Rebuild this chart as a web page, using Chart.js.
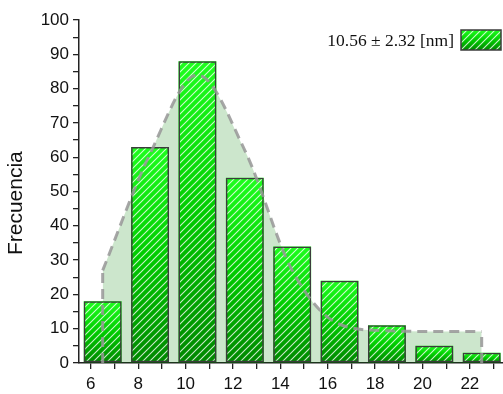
<!DOCTYPE html>
<html>
<head>
<meta charset="utf-8">
<script src="https://cdn.jsdelivr.net/npm/chart.js@4/dist/chart.umd.min.js"></script>
<style>
  html, body { margin: 0; padding: 0; background: #fff; }
  #wrap { width: 503px; height: 394px; }
</style>
</head>
<body>
<div id="wrap"><canvas id="chart"></canvas></div>
<script>
// --- DATA ---
const binCenters = [6.5, 8.5, 10.5, 12.5, 14.5, 16.5, 18.5, 20.5, 22.5];
const counts = [18, 63, 88, 54, 34, 24, 11, 5, 3];
const curveX = [6.5, 8.5, 10.5, 12.5, 14.5, 16.5, 18.5, 20.5, 22.5];
const curveY = [27, 61, 84, 62, 27, 11.3, 9.4, 9.2, 9.2];
const xLabels = [6, 8, 10, 12, 14, 16, 18, 20, 22];
const yLabels = [0, 10, 20, 30, 40, 50, 60, 70, 80, 90, 100];
const legendText = '10.56 \u00b1 2.32 [nm]';
const yTitle = 'Frecuencia';

// --- STYLE HELPERS ---
const canvas = document.getElementById('chart');
const sans = '"Liberation Sans", Arial, sans-serif';
const serif = '"Liberation Serif", "Times New Roman", serif';

// white diagonal hatch
const hatch = (() => {
    const t = document.createElement('canvas'); t.width = 7; t.height = 7;
    const g = t.getContext('2d');
    g.strokeStyle = 'rgba(255,255,255,0.8)'; g.lineWidth = 1.1;
    [-7, 0, 7].forEach(o => { g.beginPath(); g.moveTo(o - 1, 8); g.lineTo(o + 8, -1); g.stroke(); });
    return canvas.getContext('2d').createPattern(t, 'repeat');
})();

function greenGrad(ctx, top, base) {
    const g = ctx.createLinearGradient(0, top, 0, base);
    g.addColorStop(0, '#1eff1e');
    g.addColorStop(0.5, '#00cc00');
    g.addColorStop(1, '#008800');
    return g;
}

// per-bar gradient, top bright -> bottom dark
function barFill(c) {
    const ys = c.chart.scales.y;
    if (!ys || !c.parsed) return '#00c000';
    const top = ys.getPixelForValue(c.parsed.y), base = ys.getPixelForValue(0);
    if (!isFinite(top) || !isFinite(base) || top === base) return '#00c000';
    return greenGrad(c.chart.ctx, top, base);
}

const pts = (xs, ys) => xs.map((x, i) => ({x: x, y: ys[i]}));
const near = (arr, v) => arr.some(a => Math.abs(a - v) < 1e-6);
const curveStyle = {
    borderColor: 'rgba(150,150,150,0.85)', borderWidth: 3, borderDash: [10, 6],
    pointRadius: 0, pointHoverRadius: 0
};
// bar width: ruler spacing is the 1-unit tick step, bins are 2 units apart
const barStyle = { grouped: false, categoryPercentage: 1, barPercentage: 1.6 };

// whole-number tick marks inside the axis range (labels only on xLabels)
function wholeTicks(s) {
    const out = [];
    for (let v = Math.ceil(s.min); v <= Math.floor(s.max); v++) out.push({value: v});
    s.ticks = out;
}

// legend drawn inside the plot, top-right (text + swatch)
const insideLegend = {
    id: 'insideLegend',
    afterDraw(chart) {
        const {ctx, chartArea} = chart;
        const w = 40, h = 20;
        const x = chartArea.right - 2 - w, y = chartArea.top + 10;
        ctx.save();
        ctx.fillStyle = greenGrad(ctx, y, y + h); ctx.fillRect(x, y, w, h);
        ctx.fillStyle = hatch; ctx.fillRect(x, y, w, h);
        ctx.strokeStyle = '#3c3c3c'; ctx.lineWidth = 1.5; ctx.strokeRect(x, y, w, h);
        ctx.font = '17.5px ' + serif; ctx.fillStyle = '#111';
        ctx.textAlign = 'right'; ctx.textBaseline = 'middle';
        ctx.fillText(legendText, x - 7, y + h / 2 + 1);
        ctx.restore();
    }
};

new Chart(canvas, {
    data: {
        datasets: [
            { type: 'line', label: 'curve', data: pts(curveX, curveY), ...curveStyle,
              cubicInterpolationMode: 'monotone', fill: 'origin', backgroundColor: 'rgba(0,128,0,0.2)', order: 0 },
            { type: 'line', label: 'left', data: pts([curveX[0], curveX[0]], [0, curveY[0]]), ...curveStyle, fill: false, order: 0 },
            { type: 'line', label: 'right', data: pts([curveX[curveX.length - 1], curveX[curveX.length - 1]], [0, curveY[curveY.length - 1]]), ...curveStyle, fill: false, order: 0 },
            { type: 'bar', label: legendText, data: pts(binCenters, counts), backgroundColor: hatch,
              borderColor: '#3c3c3c', borderWidth: 1.5, borderSkipped: false, ...barStyle, order: 1 },
            { type: 'bar', label: 'fill', data: pts(binCenters, counts), backgroundColor: barFill,
              borderWidth: 0, ...barStyle, order: 2 }
        ]
    },
    options: {
        responsive: true, maintainAspectRatio: false, animation: false,
        layout: { padding: { top: 20, left: 0, right: 0, bottom: 0 } },
        plugins: {
            legend: { display: false },
            tooltip: { enabled: false },
            filler: { drawTime: 'beforeDatasetsDraw' }
        },
        scales: {
            x: {
                type: 'linear', min: 5.5, max: 23.4, offset: false,
                afterBuildTicks: wholeTicks,
                afterFit: s => { s.height = 31; s.paddingLeft = 0; s.paddingRight = 0; },
                border: { color: '#222', width: 1.5 },
                grid: { offset: false, drawOnChartArea: false, tickLength: 6, tickColor: '#222', lineWidth: 1.3 },
                ticks: {
                    autoSkip: false, maxRotation: 0, padding: 5,
                    font: { family: sans, size: 17 }, color: '#111',
                    callback: v => near(xLabels, v) ? String(Math.round(v)) : ''
                }
            },
            y: {
                min: 0, max: 100,
                afterFit: s => { s.width = 79; },
                border: { color: '#222', width: 1.5 },
                grid: { drawOnChartArea: false, tickLength: 6, tickColor: '#222', lineWidth: 1.3 },
                ticks: {
                    stepSize: 5, padding: 4, autoSkip: false,
                    font: { family: sans, size: 17 }, color: '#111',
                    callback: v => near(yLabels, v) ? String(Math.round(v)) : ''
                },
                title: {
                    display: true, text: yTitle + '    ', color: '#111',
                    font: { family: sans, size: 21 }, padding: { top: 4, bottom: 0 }
                }
            }
        }
    },
    plugins: [insideLegend]
});
</script>
</body>
</html>
